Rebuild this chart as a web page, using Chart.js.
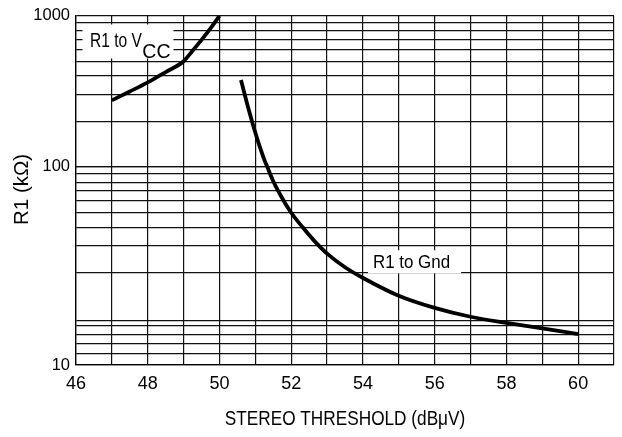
<!DOCTYPE html>
<html>
<head>
<meta charset="utf-8">
<script src="https://cdn.jsdelivr.net/npm/chart.js@4/dist/chart.umd.min.js"></script>
<style>
  html, body { margin: 0; padding: 0; background: #fff; }
  #wrap { width: 622px; height: 437px; }
</style>
</head>
<body>
<div id="wrap"><canvas id="chart"></canvas></div>
<script>
'use strict';

// R1 to VCC curve (kOhm vs dBuV)
let vccX = [47, 47.5, 48, 48.5, 49, 49.25, 49.5, 49.75, 50];
let vccY = [275, 315, 362, 424, 500, 587, 693, 826, 1000];

// R1 to Gnd curve, upper decade part and lower decade part (they meet at 100)
let gndHighX = [50.6, 50.82, 51.04, 51.26, 51.33];
let gndHighY = [375, 236, 156, 109.4, 100];
let gndLowX = [51.33, 51.48, 51.71, 51.98, 52.32, 52.65, 53.01, 53.51, 53.98, 54.98, 56, 57, 58, 59, 60];
let gndLowY = [100, 85.8, 71.2, 59.2, 49.4, 42.1, 36.3, 31, 27.6, 22.4, 19.4, 17.5, 16.3, 15.3, 14.3];

// axes
let xGrid = [46, 47, 48, 49, 50, 51, 52, 53, 54, 55, 56, 57, 58, 59, 60, 61];
let xLabels = [46, 48, 50, 52, 54, 56, 58, 60];
let topGrid = [100, 200, 300, 400, 500, 600, 700, 800, 900, 1000];
let topLabels = [100, 1000];
let lowGrid = [10, 11.45, 12.85, 14.3, 15.8, 16.8, 29.3, 39.8, 49.5, 58.7, 67.5, 75.7, 83.1, 92.5, 100];
let lowLabels = [10];

let xTitle = 'STEREO THRESHOLD (dBμV)';
let yTitle = 'R1 (kΩ)';

function points(xs, ys) {
  let pts = [];
  for (let i = 0; i < xs.length; i++) {
    pts.push({x: xs[i], y: ys[i]});
  }
  return pts;
}

const gridStyle = {color: '#111', lineWidth: 1.2, drawTicks: false};
const tickFont = {family: 'Liberation Sans', size: 16.5};

function curve(data, axis) {
  return {
    data: data,
    yAxisID: axis,
    borderColor: '#000',
    borderWidth: 3.8,
    pointRadius: 0,
    fill: false,
    cubicInterpolationMode: 'monotone'
  };
}

// text squeezed sideways, like the condensed face of the original
function narrowText(ctx, text, x, y, squeeze) {
  ctx.save();
  ctx.translate(x, y);
  ctx.scale(squeeze, 1);
  ctx.fillText(text, 0, 0);
  ctx.restore();
}

const labels = {
  id: 'labels',
  beforeDatasetsDraw(chart) {
    const ctx = chart.ctx;
    const x = chart.scales.x;
    ctx.save();
    ctx.textBaseline = 'alphabetic';

    // R1 to VCC
    let tx = x.getPixelForValue(46.39);
    let by = chart.scales.yTop.getPixelForValue(617);
    ctx.font = '21px "Liberation Sans"';
    let w1 = ctx.measureText('R1 to V').width * 0.74;
    ctx.font = '19.5px "Liberation Sans"';
    let w2 = ctx.measureText('CC').width;
    ctx.fillStyle = '#fff';
    ctx.fillRect(tx - 7.5, by - 23, w1 + w2 + 11, 34);
    ctx.fillStyle = '#000';
    ctx.font = '21px "Liberation Sans"';
    narrowText(ctx, 'R1 to V', tx, by, 0.74);
    ctx.font = '19.5px "Liberation Sans"';
    ctx.fillText('CC', tx + w1 + 0.5, by + 10.5);

    // R1 to Gnd
    tx = x.getPixelForValue(54.28);
    by = chart.scales.yLow.getPixelForValue(30.7);
    ctx.font = '18.6px "Liberation Sans"';
    let w3 = ctx.measureText('R1 to Gnd').width * 0.91;
    ctx.fillStyle = '#fff';
    ctx.fillRect(tx - 5, by - 18, w3 + 16, 23);
    ctx.fillStyle = '#000';
    narrowText(ctx, 'R1 to Gnd', tx, by, 0.91);
    ctx.restore();
  },
  afterDraw(chart) {
    const ctx = chart.ctx;
    const area = chart.chartArea;
    ctx.save();
    ctx.fillStyle = '#000';
    ctx.textAlign = 'center';
    ctx.textBaseline = 'middle';

    // y axis title
    ctx.save();
    ctx.translate(22.5, (area.top + area.bottom) / 2 - 1);
    ctx.rotate(-Math.PI / 2);
    ctx.font = '20.5px "Liberation Sans"';
    ctx.fillText(yTitle, 0, 0);
    ctx.restore();

    // x axis title
    ctx.font = '20.5px "Liberation Sans"';
    narrowText(ctx, xTitle, (area.left + area.right) / 2, area.bottom + 54, 0.84);
    ctx.restore();
  }
};

function renderChart() {
  let canvasElem = document.getElementById('chart');
  new Chart(canvasElem, {
    type: 'line',
    data: {
      datasets: [
        curve(points(vccX, vccY), 'yTop'),
        curve(points(gndHighX, gndHighY), 'yTop'),
        curve(points(gndLowX, gndLowY), 'yLow')
      ]
    },
    options: {
      responsive: true,
      maintainAspectRatio: false,
      animation: false,
      layout: {padding: {top: 15, right: 5, left: 0, bottom: 0}},
      plugins: {legend: {display: false}, tooltip: {enabled: false}},
      scales: {
        x: {
          type: 'linear',
          min: 46,
          max: 61,
          afterBuildTicks: s => { s.ticks = xGrid.map(v => ({value: v})); },
          afterFit: s => { s.height = 72; },
          ticks: {
            autoSkip: false,
            maxRotation: 0,
            padding: 8,
            color: '#000',
            font: {family: 'Liberation Sans', size: 18},
            callback: v => xLabels.includes(v) ? String(v) : ''
          },
          grid: gridStyle,
          border: {color: '#000', width: 1.3}
        },
        yLow: {
          type: 'logarithmic',
          position: 'left',
          stack: 'r1',
          stackWeight: 199,
          min: 10,
          max: 100,
          afterBuildTicks: s => { s.ticks = lowGrid.map(v => ({value: v})); },
          afterFit: s => { s.width = 76; },
          ticks: {
            autoSkip: false,
            padding: 6,
            color: '#000',
            font: tickFont,
            callback: v => lowLabels.includes(v) ? String(v) : ''
          },
          grid: gridStyle,
          border: {color: '#000', width: 1.3}
        },
        yTop: {
          type: 'logarithmic',
          position: 'left',
          stack: 'r1',
          stackWeight: 151,
          min: 100,
          max: 1000,
          afterBuildTicks: s => { s.ticks = topGrid.map(v => ({value: v})); },
          afterFit: s => { s.width = 76; },
          ticks: {
            autoSkip: false,
            padding: 6,
            color: '#000',
            font: tickFont,
            callback: v => topLabels.includes(v) ? String(v) : ''
          },
          grid: gridStyle,
          border: {color: '#000', width: 1.3}
        }
      }
    },
    plugins: [labels]
  });
}

renderChart();
</script>
</body>
</html>
